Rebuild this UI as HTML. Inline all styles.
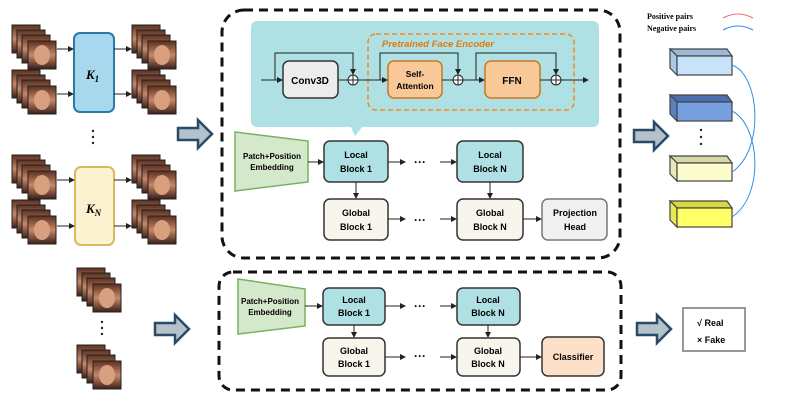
<!DOCTYPE html>
<html><head><style>body{margin:0;background:#fff}svg{display:block}</style></head><body>
<svg width="789" height="401" viewBox="0 0 789 401" xmlns="http://www.w3.org/2000/svg" font-family="Liberation Sans, sans-serif">
<defs>
<marker id="a" markerWidth="6" markerHeight="6" refX="5" refY="3" orient="auto"><path d="M0,0L6,3L0,6z" fill="#222"/></marker>
<linearGradient id="f" x1="0" y1="0" x2="0" y2="1"><stop offset="0" stop-color="#5a3020"/><stop offset=".5" stop-color="#c88868"/><stop offset="1" stop-color="#3a2018"/></linearGradient>
<g id="stk">
<rect x="0" y="0" width="28" height="28" fill="url(#f)" stroke="#222"/>
<rect x="5" y="5" width="28" height="28" fill="url(#f)" stroke="#222"/>
<rect x="10" y="10" width="28" height="28" fill="url(#f)" stroke="#222"/>
<rect x="16" y="16" width="28" height="28" fill="url(#f)" stroke="#222"/>
<ellipse cx="30" cy="30" rx="8" ry="10" fill="#d9a080"/>
</g>
<path id="bar" d="M0,8H20V0L34,14L20,28V20H0z" fill="#b4c2cc" stroke="#2a4a66" stroke-width="2.5"/>
</defs>
<!-- left -->
<use href="#stk" x="12" y="25"/><use href="#stk" x="12" y="70"/>
<use href="#stk" x="12" y="155"/><use href="#stk" x="12" y="200"/>
<use href="#stk" x="132" y="25"/><use href="#stk" x="132" y="70"/>
<use href="#stk" x="132" y="155"/><use href="#stk" x="132" y="200"/>
<use href="#stk" x="77" y="268"/><use href="#stk" x="77" y="345"/>
<rect x="74" y="33" width="40" height="79" rx="6" fill="#a8d8ee" stroke="#2a7aa8" stroke-width="2"/>
<rect x="75" y="167" width="39" height="78" rx="6" fill="#fdf2cf" stroke="#d8b860" stroke-width="2"/>
<text x="86" y="79" font-family="Liberation Serif,serif" font-style="italic" font-weight="bold" font-size="13">K<tspan font-size="9" dy="3">1</tspan></text>
<text x="86" y="213" font-family="Liberation Serif,serif" font-style="italic" font-weight="bold" font-size="13">K<tspan font-size="9" dy="3">N</tspan></text>
<g stroke="#222" marker-end="url(#a)"><line x1="57" y1="49" x2="73" y2="49"/><line x1="57" y1="94" x2="73" y2="94"/><line x1="57" y1="180" x2="74" y2="180"/><line x1="57" y1="226" x2="74" y2="226"/>
<line x1="114" y1="49" x2="131" y2="49"/><line x1="114" y1="94" x2="131" y2="94"/><line x1="114" y1="180" x2="131" y2="180"/><line x1="114" y1="226" x2="131" y2="226"/></g>
<g fill="#222"><circle cx="93" cy="131" r="1.2"/><circle cx="93" cy="137" r="1.2"/><circle cx="93" cy="143" r="1.2"/>
<circle cx="102" cy="322" r="1.2"/><circle cx="102" cy="328" r="1.2"/><circle cx="102" cy="334" r="1.2"/></g>
<use href="#bar" x="178" y="120"/><use href="#bar" x="155" y="315"/><use href="#bar" x="634" y="122"/><use href="#bar" x="637" y="315"/>
<!-- top panel -->
<rect x="222" y="10" width="398" height="248" rx="22" fill="none" stroke="#111" stroke-width="3" stroke-dasharray="9,6"/>
<path d="M257,21H593a6,6 0 0 1 6,6V121a6,6 0 0 1-6,6H362L355,136L351,127H257a6,6 0 0 1-6-6V27a6,6 0 0 1 6-6z" fill="#aee0e4"/>
<rect x="368" y="34" width="206" height="76" rx="8" fill="none" stroke="#f08a20" stroke-width="1.5" stroke-dasharray="5,3"/>
<text x="382" y="47" fill="#e07a10" font-size="9.5" font-weight="bold" font-style="italic">Pretrained Face Encoder</text>
<rect x="283" y="61" width="55" height="37" rx="6" fill="#ececec" stroke="#333" stroke-width="1.5"/>
<text x="310" y="84" text-anchor="middle" font-size="10" font-weight="bold">Conv3D</text>
<rect x="388" y="61" width="54" height="37" rx="6" fill="#f8c898" stroke="#c87820" stroke-width="1.5"/>
<text x="415" y="77" text-anchor="middle" font-size="8.5" font-weight="bold">Self-</text><text x="415" y="89" text-anchor="middle" font-size="8.5" font-weight="bold">Attention</text>
<rect x="485" y="61" width="55" height="37" rx="6" fill="#f8c898" stroke="#c87820" stroke-width="1.5"/>
<text x="512" y="84" text-anchor="middle" font-size="10" font-weight="bold">FFN</text>
<g stroke="#222" fill="none">
<line x1="261" y1="80" x2="282" y2="80" marker-end="url(#a)"/><line x1="338" y1="80" x2="348" y2="80"/><line x1="358" y1="80" x2="387" y2="80" marker-end="url(#a)"/>
<line x1="442" y1="80" x2="453" y2="80"/><line x1="463" y1="80" x2="484" y2="80" marker-end="url(#a)"/><line x1="540" y1="80" x2="551" y2="80"/><line x1="561" y1="80" x2="588" y2="80" marker-end="url(#a)"/>
<path d="M275,80V53H353V74" marker-end="url(#a)"/><path d="M380,80V53H458V74" marker-end="url(#a)"/><path d="M476,80V53H556V74" marker-end="url(#a)"/>
<circle cx="353" cy="80" r="5" fill="#fff"/><path d="M348,80h10M353,75v10"/>
<circle cx="458" cy="80" r="5" fill="#fff"/><path d="M453,80h10M458,75v10"/>
<circle cx="556" cy="80" r="5" fill="#fff"/><path d="M551,80h10M556,75v10"/>
</g>
<g font-size="9" font-weight="bold" text-anchor="middle">
<path d="M235,132L308,141V182L235,191z" fill="#d4e8cc" stroke="#7ab060" stroke-width="1.5"/>
<text x="272" y="159" font-size="8">Patch+Position</text><text x="272" y="170" font-size="8">Embedding</text>
<rect x="324" y="141" width="64" height="41" rx="6" fill="#aee0e4" stroke="#333" stroke-width="1.5"/><text x="356" y="158">Local</text><text x="356" y="172">Block 1</text>
<rect x="457" y="141" width="66" height="41" rx="6" fill="#aee0e4" stroke="#333" stroke-width="1.5"/><text x="490" y="158">Local</text><text x="490" y="172">Block N</text>
<rect x="324" y="199" width="64" height="41" rx="6" fill="#f8f5ec" stroke="#333" stroke-width="1.5"/><text x="356" y="216">Global</text><text x="356" y="230">Block 1</text>
<rect x="457" y="199" width="66" height="41" rx="6" fill="#f8f5ec" stroke="#333" stroke-width="1.5"/><text x="490" y="216">Global</text><text x="490" y="230">Block N</text>
<rect x="542" y="199" width="65" height="41" rx="6" fill="#f0f0f0" stroke="#777" stroke-width="1.5"/><text x="575" y="216">Projection</text><text x="575" y="230">Head</text>
<text x="420" y="166" font-size="12">···</text><text x="420" y="224" font-size="12">···</text>
</g>
<g stroke="#222" marker-end="url(#a)">
<line x1="308" y1="162" x2="323" y2="162"/><line x1="388" y1="162" x2="405" y2="162"/><line x1="440" y1="162" x2="456" y2="162"/>
<line x1="388" y1="219" x2="405" y2="219"/><line x1="440" y1="219" x2="456" y2="219"/><line x1="523" y1="219" x2="541" y2="219"/>
<line x1="356" y1="182" x2="356" y2="198"/><line x1="490" y1="182" x2="490" y2="198"/>
</g>
<!-- bottom panel -->
<rect x="219" y="272" width="402" height="118" rx="14" fill="none" stroke="#111" stroke-width="3" stroke-dasharray="9,6"/>
<g font-size="9" font-weight="bold" text-anchor="middle">
<path d="M238,279L305,289V326L238,334z" fill="#d4e8cc" stroke="#7ab060" stroke-width="1.5"/>
<text x="270" y="304" font-size="8">Patch+Position</text><text x="270" y="315" font-size="8">Embedding</text>
<rect x="323" y="288" width="62" height="37" rx="6" fill="#aee0e4" stroke="#333" stroke-width="1.5"/><text x="354" y="303">Local</text><text x="354" y="316">Block 1</text>
<rect x="457" y="288" width="63" height="37" rx="6" fill="#aee0e4" stroke="#333" stroke-width="1.5"/><text x="488" y="303">Local</text><text x="488" y="316">Block N</text>
<rect x="323" y="338" width="62" height="38" rx="6" fill="#f8f5ec" stroke="#333" stroke-width="1.5"/><text x="354" y="354">Global</text><text x="354" y="367">Block 1</text>
<rect x="457" y="338" width="63" height="38" rx="6" fill="#f8f5ec" stroke="#333" stroke-width="1.5"/><text x="488" y="354">Global</text><text x="488" y="367">Block N</text>
<rect x="542" y="337" width="62" height="39" rx="6" fill="#fde0c8" stroke="#333" stroke-width="1.5"/><text x="573" y="360">Classifier</text>
<text x="420" y="310" font-size="12">···</text><text x="420" y="360" font-size="12">···</text>
</g>
<g stroke="#222" marker-end="url(#a)">
<line x1="305" y1="306" x2="322" y2="306"/><line x1="385" y1="306" x2="405" y2="306"/><line x1="440" y1="306" x2="456" y2="306"/>
<line x1="385" y1="357" x2="405" y2="357"/><line x1="440" y1="357" x2="456" y2="357"/><line x1="520" y1="357" x2="541" y2="357"/>
<line x1="354" y1="325" x2="354" y2="337"/><line x1="488" y1="325" x2="488" y2="337"/>
</g>
<!-- right -->
<text x="647" y="19" font-family="Liberation Serif,serif" font-size="8" font-weight="bold">Positive pairs</text>
<text x="647" y="31" font-family="Liberation Serif,serif" font-size="8" font-weight="bold">Negative pairs</text>
<path d="M723,18Q738,10 753,18" stroke="#f07070" fill="none"/><path d="M723,30Q738,22 753,30" stroke="#3090f0" fill="none"/>
<g stroke="#444" stroke-width="1.2">
<path d="M670,49H727L732,56H677z" fill="#9ab8d8"/><path d="M670,49L677,56V75L670,68z" fill="#a8c8e8"/><rect x="677" y="56" width="55" height="19" fill="#c8e2fa"/>
<path d="M670,95H727L732,102H677z" fill="#4a70b0"/><path d="M670,95L677,102V121L670,114z" fill="#5a80c0"/><rect x="677" y="102" width="55" height="19" fill="#78a0e0"/>
<path d="M670,156H727L732,163H677z" fill="#d8d8a8"/><path d="M670,156L677,163V181L670,174z" fill="#e8e8b8"/><rect x="677" y="163" width="55" height="18" fill="#fcfccc"/>
<path d="M670,201H727L732,208H677z" fill="#d8d840"/><path d="M670,201L677,208V227L670,220z" fill="#e8e850"/><rect x="677" y="208" width="55" height="19" fill="#ffff66"/>
</g>
<g fill="#222"><circle cx="701" cy="130" r="1.2"/><circle cx="701" cy="137" r="1.2"/><circle cx="701" cy="144" r="1.2"/></g>
<path d="M732,65C760,75 765,150 732,172" stroke="#3090f0" fill="none"/>
<path d="M732,111C760,125 765,195 732,217" stroke="#3090f0" fill="none"/>
<rect x="683" y="308" width="62" height="43" fill="#fff" stroke="#999" stroke-width="2"/>
<text x="697" y="326" font-size="9" font-weight="bold">√ Real</text><text x="697" y="343" font-size="9" font-weight="bold">× Fake</text>
</svg>
</body></html>
